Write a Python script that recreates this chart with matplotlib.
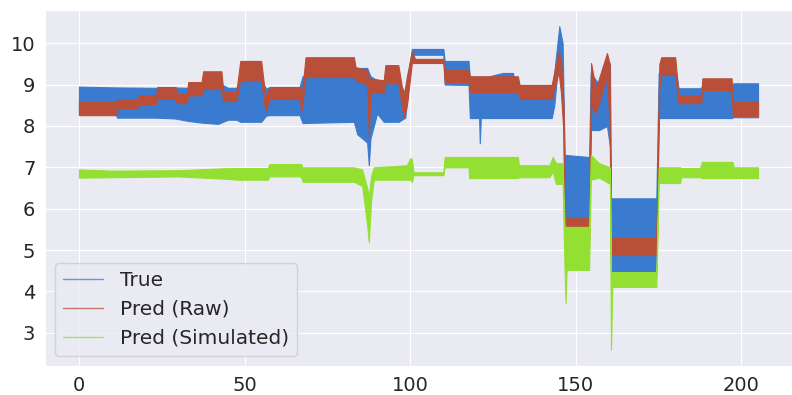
import matplotlib
matplotlib.use("Agg")
import matplotlib.pyplot as plt
import seaborn as sns
from matplotlib.lines import Line2D

# envelopes (low / high) of each noisy series
true_x = [0, 11, 11.5, 23, 29, 33, 37, 42, 45, 47.5, 48.7, 55, 56.5, 57.6, 66.6, 67.5,
          83, 84, 87, 87.5, 88, 90, 92, 96.5, 98.5, 100.5, 110, 110.4, 117.6, 118,
          120.8, 121, 121.3, 128, 131, 132.5, 142.7, 143.5, 145, 146, 146.6, 154,
          154.5, 157, 159.4, 160.3, 160.6, 174.3, 175, 180.3, 181, 187.8, 188, 197,
          197.5, 205]
true_lo = [8.30, 8.30, 8.20, 8.20, 8.18, 8.12, 8.08, 8.05, 8.15, 8.15, 8.10, 8.10, 8.25,
           8.26, 8.26, 8.07, 8.10, 7.80, 7.60, 7.05, 7.70, 8.30, 8.10, 8.10, 8.20, 9.72,
           9.72, 9.00, 8.99, 8.19, 8.19, 7.58, 8.19, 8.19, 8.19, 8.19, 8.19, 8.50, 9.80,
           9.00, 5.50, 5.50, 7.90, 7.90, 8.00, 7.50, 4.45, 4.45, 8.19, 8.19, 8.19, 8.19,
           8.19, 8.19, 8.21, 8.21]
true_hi = [8.95, 8.93, 8.93, 8.92, 8.93, 8.92, 9.00, 9.05, 8.92, 8.92, 9.10, 9.10, 8.90,
           8.94, 8.94, 9.20, 9.25, 9.40, 9.40, 9.30, 9.20, 9.10, 9.05, 9.05, 8.80, 9.86,
           9.86, 9.57, 9.57, 9.15, 9.15, 9.15, 9.15, 9.28, 9.28, 8.76, 8.76, 9.30, 10.41,
           10.00, 7.30, 7.25, 9.28, 9.00, 9.60, 9.50, 6.25, 6.25, 9.28, 9.28, 8.91, 8.91,
           8.95, 8.95, 9.03, 9.03]

raw_x = [0, 11.3, 11.6, 17.6, 18, 23.3, 23.6, 29.2, 29.5, 32.5, 33, 37, 37.5, 43, 43.6,
         47.5, 48.7, 55, 56.3, 57.6, 66.6, 67.2, 68.4, 83, 83.5, 87, 87.5, 88, 92, 92.5,
         96.4, 98, 99, 100.5, 101.5, 110, 110.4, 117.6, 118, 132.5, 133, 142.7, 144.8,
         145.5, 146.3, 146.8, 154, 154.6, 156, 159.4, 160.2, 160.6, 174.3, 175.2, 175.8,
         180, 181, 187.8, 188.2, 197, 197.4, 205]
raw_lo = [8.26, 8.26, 8.43, 8.43, 8.53, 8.53, 8.67, 8.67, 8.55, 8.55, 8.74, 8.74, 8.89,
          8.89, 8.60, 8.60, 9.10, 9.10, 8.35, 8.65, 8.65, 8.35, 9.18, 9.18, 9.10, 9.00,
          7.73, 8.80, 8.80, 9.03, 9.03, 8.20, 8.50, 9.52, 9.52, 9.52, 9.06, 9.06, 8.82,
          8.82, 8.65, 8.65, 9.30, 8.80, 7.80, 5.29, 5.29, 8.50, 8.30, 9.20, 8.00, 4.88,
          4.88, 8.90, 9.23, 9.23, 8.55, 8.55, 8.87, 8.87, 8.24, 8.24]
raw_hi = [8.58, 8.58, 8.64, 8.64, 8.74, 8.74, 8.94, 8.94, 8.77, 8.77, 9.06, 9.06, 9.32,
          9.32, 8.82, 8.82, 9.57, 9.57, 8.70, 8.94, 8.94, 8.70, 9.66, 9.66, 9.42, 9.35,
          9.10, 9.15, 9.10, 9.47, 9.47, 8.70, 9.20, 9.80, 9.62, 9.62, 9.35, 9.35, 9.20,
          9.20, 8.99, 8.99, 9.80, 9.60, 8.50, 5.77, 5.77, 9.52, 8.90, 9.76, 9.50, 5.29,
          5.29, 9.50, 9.66, 9.66, 8.72, 8.72, 9.15, 9.15, 8.58, 8.58]

sim_x = [0, 10, 30, 45, 48, 57, 57.5, 67, 67.5, 83, 85.5, 87, 87.5, 88.2, 89, 99, 100,
         100.5, 101, 110, 110.4, 117.6, 117.8, 132.5, 132.8, 142, 143, 144, 146, 146.6,
         146.9, 147.2, 154, 154.5, 157, 160.3, 160.6, 161, 174.3, 175, 181.5, 181.8,
         187.5, 188, 197.3, 197.7, 205]
sim_lo = [6.75, 6.76, 6.78, 6.72, 6.70, 6.70, 6.78, 6.78, 6.65, 6.65, 6.55, 5.60, 5.19,
          6.20, 6.70, 6.70, 6.70, 6.65, 6.81, 6.81, 7.00, 7.00, 6.74, 6.74, 6.76, 6.76,
          6.90, 6.60, 6.60, 4.52, 3.72, 4.52, 4.52, 6.70, 6.75, 6.60, 2.59, 4.11, 4.11,
          6.62, 6.62, 6.76, 6.76, 6.74, 6.74, 6.74, 6.74]
sim_hi = [6.95, 6.92, 6.93, 6.98, 6.98, 6.98, 7.08, 7.08, 7.00, 7.00, 6.95, 6.50, 6.30,
          6.80, 7.00, 7.05, 7.22, 7.20, 6.88, 6.88, 7.25, 7.25, 7.25, 7.25, 7.05, 7.05,
          7.25, 7.10, 7.10, 5.56, 5.56, 5.56, 5.56, 7.30, 7.10, 7.00, 4.47, 4.47, 4.47,
          7.00, 7.00, 6.98, 6.98, 7.13, 7.13, 7.00, 7.00]

labels = ["True", "Pred (Raw)", "Pred (Simulated)"]
colors = ["#3a7bd0", "#b94f38", "#94e032"]

sns.set_style("darkgrid")
plt.rcParams["font.family"] = ["DejaVu Sans"]

fig = plt.figure(figsize=(7.92, 3.95), dpi=100)
ax = fig.add_axes([45 / 792, 29 / 395, 747 / 792, 356 / 395])

series = [(true_x, true_lo, true_hi), (raw_x, raw_lo, raw_hi), (sim_x, sim_lo, sim_hi)]
for (xs, lo, hi), c in zip(series, colors):
    ax.fill_between(xs, lo, hi, color=c, linewidth=0.8, edgecolor=c)

handles = [Line2D([], [], color=c, lw=1, alpha=0.75) for c in colors]
ax.legend(handles, labels, loc="lower left", fontsize=14.5)
ax.tick_params(labelsize=14)

fig.savefig("out.png", dpi=100)
